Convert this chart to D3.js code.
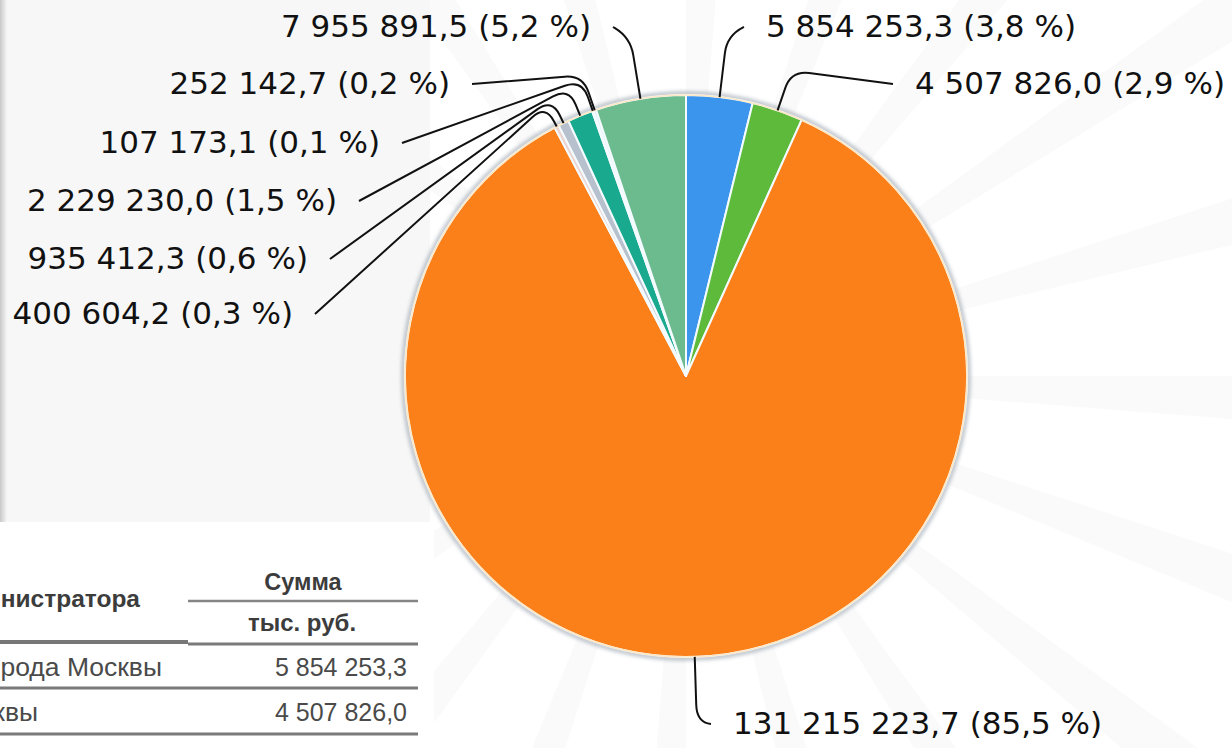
<!DOCTYPE html>
<html><head><meta charset="utf-8">
<script src="https://cdn.jsdelivr.net/npm/d3@7"></script>
<style>html,body{margin:0;padding:0;background:#fff;overflow:hidden}</style>
</head><body><svg id="c" width="1232" height="748"></svg>
<script>
// ---- data ----
const sliceIds = ["s1","s2","s3","s4","s5","s6","s7","s8","s9"];
const values = [5854253.3, 4507826.0, 131215223.7, 400604.2, 935412.3, 2229230.0, 107173.1, 252142.7, 7955891.5];
const colors = ["#3b95ec","#5dba3b","#fb8019","#ecd3cf","#b6c1cd","#19a98f","#cdebf1","#def1f5","#6cbb8e"];
const tableHeader = ["нистратора","Сумма","тыс. руб."];
const tableRowNames = ["рода Москвы","квы"];
const tableRowValues = [values[0], values[1]];

// ---- layout (not data) ----
const W = 1232, H = 748, cx = 686, cy = 376, R = 281;
const labelLayout = [
  {anchor:"start", x:766, y:26,  ext:62},
  {anchor:"start", x:915, y:83,  ext:42},
  {anchor:"start", x:733, y:723, ext:66},
  {anchor:"end",   x:293, y:313, ext:24},
  {anchor:"end",   x:308, y:258, ext:27},
  {anchor:"end",   x:337, y:200, ext:30},
  {anchor:"end",   x:380, y:142, ext:33},
  {anchor:"end",   x:450, y:83,  ext:37},
  {anchor:"end",   x:591, y:26,  ext:62}
];
const rowNameEnd = [162, 38];

const loc = d3.formatLocale({decimal:",", thousands:"\u00a0", grouping:[3], currency:["",""]});
const fVal = loc.format(",.1f");
const fPct = loc.format(".1f");
const total = d3.sum(values);

const svg = d3.select("#c");
const defs = svg.append("defs");
const g1 = defs.append("linearGradient").attr("id","edge").attr("x1","0").attr("x2","1");
g1.append("stop").attr("offset","0").attr("stop-color","#c8c8c8");
g1.append("stop").attr("offset","1").attr("stop-color","#f7f7f7");
const f = defs.append("filter").attr("id","sh").attr("x","-10%").attr("y","-10%").attr("width","120%").attr("height","120%");
f.append("feGaussianBlur").attr("stdDeviation",2.2);

// background
svg.append("rect").attr("width",W).attr("height",H).attr("fill","#fff");
// very faint rays watermark
const rayG = svg.append("g");
const rayArc = d3.arc().innerRadius(0).outerRadius(1100);
d3.range(40).forEach(i=>{
  if(i%2) return;
  const a0 = i*Math.PI*2/40, a1 = a0 + Math.PI*2/40*0.5;
  rayG.append("path").attr("transform",`translate(${cx},${cy})`)
    .attr("d", rayArc({startAngle:a0,endAngle:a1})).attr("fill","#fafafa");
});
svg.append("rect").attr("x",0).attr("y",0).attr("width",430).attr("height",522).attr("fill","#f7f7f7");
svg.append("rect").attr("x",0).attr("y",0).attr("width",7).attr("height",546).attr("fill","url(#edge)");
svg.append("rect").attr("x",0).attr("y",522).attr("width",434).attr("height",226).attr("fill","#fff");

// table fragment
const tg = svg.append("g").attr("font-family","'Liberation Sans', Arial, sans-serif");
tg.append("text").attr("x",140).attr("y",607).attr("text-anchor","end").attr("font-size",24.5).attr("font-weight","bold").attr("fill","#3c3c3c").text(tableHeader[0]);
tg.append("text").attr("x",303).attr("y",590).attr("text-anchor","middle").attr("font-size",23.5).attr("font-weight","bold").attr("fill","#3c3c3c").text(tableHeader[1]);
tg.append("text").attr("x",302).attr("y",631).attr("text-anchor","middle").attr("font-size",24).attr("font-weight","bold").attr("fill","#3c3c3c").text(tableHeader[2]);
tg.append("line").attr("x1",188).attr("x2",418).attr("y1",601).attr("y2",601).attr("stroke","#858585").attr("stroke-width",2.5);
tg.append("line").attr("x1",0).attr("x2",188).attr("y1",642).attr("y2",642).attr("stroke","#777").attr("stroke-width",4);
tg.append("line").attr("x1",188).attr("x2",418).attr("y1",644).attr("y2",644).attr("stroke","#7a7a7a").attr("stroke-width",3);
const rowY = [668, 713], lineY = [688, 734];
tableRowNames.forEach((n,i)=>{
  tg.append("text").attr("x",rowNameEnd[i]).attr("y",rowY[i]+8).attr("text-anchor","end").attr("font-size",26.5).attr("fill","#4a4a4a").text(n);
  tg.append("text").attr("x",407).attr("y",rowY[i]+8).attr("text-anchor","end").attr("font-size",25).attr("fill","#4a4a4a").text(fVal(tableRowValues[i]));
  tg.append("line").attr("x1",0).attr("x2",418).attr("y1",lineY[i]).attr("y2",lineY[i]).attr("stroke","#7a7a7a").attr("stroke-width",3);
});

// pie
const pie = d3.pie().sort(null).value(d=>d);
const arcs = pie(values);
const arc = d3.arc().innerRadius(0).outerRadius(R);
const pg = svg.append("g").attr("transform",`translate(${cx},${cy})`);
pg.append("circle").attr("r",R+1.5).attr("fill","none").attr("stroke","#9aa4b0").attr("stroke-width",3).attr("filter","url(#sh)");
pg.selectAll("path.s").data(arcs).join("path").attr("class","s")
  .attr("d",arc).attr("fill",(d,i)=>colors[i])
  .attr("stroke","#f4fbff").attr("stroke-width",2).attr("stroke-linejoin","round");
pg.append("circle").attr("r",R).attr("fill","none").attr("stroke","#fde7c4").attr("stroke-width",1.5);

// labels + connectors
const lg = svg.append("g");
function pt(a, r){ return [cx + Math.sin(a)*r, cy - Math.cos(a)*r]; }
function toward(p, q, d){ const dx=q[0]-p[0], dy=q[1]-p[1], L=Math.hypot(dx,dy)||1, t=Math.min(d, L)/L; return [p[0]+dx*t, p[1]+dy*t]; }
arcs.forEach((a,i)=>{
  const L = labelLayout[i];
  const mid = (a.startAngle + a.endAngle)/2;
  const p0 = pt(mid, R);
  const c = pt(mid, R + L.ext);
  const anc = [L.anchor==="end" ? L.x + 22 : L.x - 22, L.y + 1];
  const rr = 18;
  const q1 = toward(c, anc, rr), q2 = toward(c, p0, rr);
  const path = d3.path();
  path.moveTo(anc[0], anc[1]);
  path.lineTo(q1[0], q1[1]);
  path.quadraticCurveTo(c[0], c[1], q2[0], q2[1]);
  path.lineTo(p0[0], p0[1]);
  lg.append("path").attr("d", path.toString()).attr("fill","none").attr("stroke","#111").attr("stroke-width",2);
  lg.append("text").attr("x",L.x).attr("y",L.y+11).attr("text-anchor",L.anchor)
    .attr("font-family","'DejaVu Sans', Verdana, sans-serif").attr("font-size",31).attr("fill","#111")
    .text(`${fVal(values[i])} (${fPct(values[i]/total*100)} %)`);
});
</script></body></html>
